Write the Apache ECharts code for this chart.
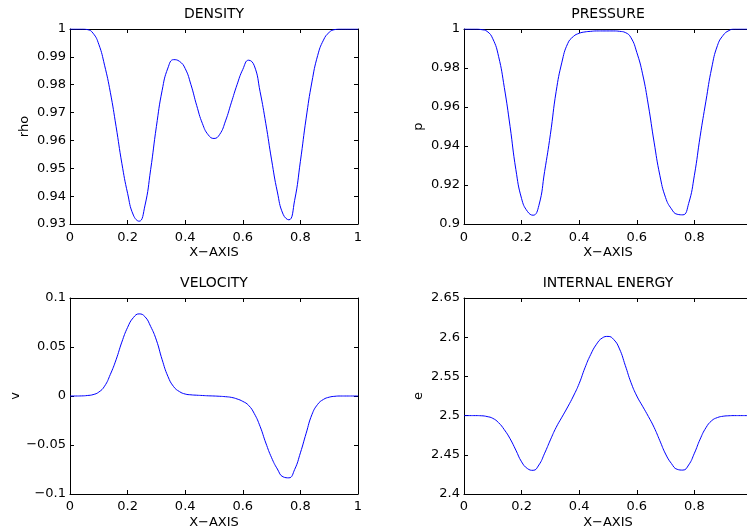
<!DOCTYPE html>
<html><head><meta charset="utf-8">
<script src="https://cdn.jsdelivr.net/npm/echarts@6/dist/echarts.min.js"></script>
<style>html,body{margin:0;padding:0;background:#fff}#c{width:747px;height:531px}</style>
</head><body><div id="c"></div>
<script>
// ---- data ----
const xs = [0,0.02,0.04,0.06,0.08,0.10,0.12,0.14,0.16,0.18,0.20,0.22,0.24,0.26,0.28,0.30,0.32,0.34,0.36,0.38,0.40,0.42,0.44,0.46,0.48,0.50,0.52,0.54,0.56,0.58,0.60,0.62,0.64,0.66,0.68,0.70,0.72,0.74,0.76,0.78,0.80,0.82,0.84,0.86,0.88,0.90,0.92,0.94,0.96,0.98,1.00];
const rho = [1.0,1.0,1.0,0.9998,0.9985,0.9945,0.9870,0.9773,0.965,0.9518,0.941,0.9332,0.931,0.9365,0.9495,0.965,0.978,0.986,0.989,0.9884,0.9858,0.980,0.9725,0.966,0.962,0.9607,0.9622,0.967,0.9735,0.980,0.9855,0.9888,0.9868,0.9775,0.966,0.953,0.9415,0.9335,0.9315,0.9385,0.9525,0.968,0.981,0.9905,0.996,0.9988,0.9998,1.0,1.0,1.0,1.0];
const pres = [1.0,1.0,1.0,0.9997,0.9988,0.995,0.986,0.970,0.950,0.928,0.913,0.9065,0.9045,0.9095,0.927,0.946,0.968,0.983,0.9925,0.9962,0.9978,0.9985,0.9988,0.999,0.999,0.999,0.999,0.9988,0.9982,0.9955,0.988,0.977,0.961,0.942,0.925,0.9135,0.9078,0.9050,0.9047,0.9105,0.925,0.945,0.963,0.980,0.9915,0.9968,0.9992,1.0,1.0,1.0,1.0];
const vel = [0,0,0.0001,0.0005,0.0014,0.004,0.010,0.022,0.037,0.055,0.070,0.080,0.0838,0.081,0.071,0.057,0.037,0.020,0.0095,0.0045,0.002,0.0012,0.0008,0.0005,0.0002,0,-0.0003,-0.0007,-0.0014,-0.003,-0.0055,-0.0095,-0.018,-0.031,-0.048,-0.063,-0.0745,-0.0825,-0.0835,-0.075,-0.058,-0.038,-0.019,-0.0085,-0.0035,-0.0012,-0.0003,0,0,0,0];
const ener = [2.5,2.5,2.5,2.4998,2.4988,2.4965,2.491,2.482,2.4705,2.456,2.441,2.4325,2.4302,2.437,2.452,2.469,2.485,2.498,2.511,2.525,2.541,2.561,2.578,2.591,2.599,2.601,2.597,2.585,2.564,2.542,2.525,2.512,2.499,2.485,2.468,2.451,2.439,2.4315,2.4305,2.437,2.452,2.470,2.4845,2.4935,2.4975,2.4992,2.4998,2.5,2.5,2.5,2.5];

const xTicks = [0,0.2,0.4,0.6,0.8,1];
const rhoTicks = [0.93,0.94,0.95,0.96,0.97,0.98,0.99,1];
const presTicks = [0.9,0.92,0.94,0.96,0.98,1];
const velTicks = [-0.1,-0.05,0,0.05,0.1];
const enerTicks = [2.4,2.45,2.5,2.55,2.6,2.65];

const titles = ['DENSITY','PRESSURE','VELOCITY','INTERNAL ENERGY'];
const yNames = ['rho','p','v','e'];
const xName = 'X\u2212AXIS';

// ---- layout ----
const layout = [
  {left:70, top:29, width:288, height:195},
  {left:464, top:29, width:288, height:195},
  {left:70, top:298, width:288, height:196},
  {left:464, top:298, width:288, height:196}
];
const yNameGaps = [39, 38.5, 47, 38.5];
const xLabelMargins = [7, 7, 6, 6];
const xNameGaps = [22, 22, 22, 22];
const seriesVals = [rho, pres, vel, ener];
const yTickSets = [rhoTicks, presTicks, velTicks, enerTicks];

const FONT = 'DejaVu Sans';
const FS = 13;
function fmt(v){ return String(parseFloat(Number(v).toFixed(6))).replace('-', '\u2212'); }
function step(t){ return parseFloat((t[1]-t[0]).toFixed(6)); }
const txt = {color:'#000', fontSize:FS, fontFamily:FONT};

const option = {animation:false, backgroundColor:'#fff', grid:[], xAxis:[], yAxis:[], series:[]};
layout.forEach((g,i)=>{
  option.grid.push(Object.assign({outerBoundsMode:'none', containLabel:false, show:false}, g));
  const base = () => ({
    type:'value', gridIndex:i, splitLine:{show:false},
    axisLine:{show:true, onZero:false, lineStyle:{color:'#000', width:1}},
    axisTick:{show:true, inside:true, length:4, lineStyle:{color:'#000', width:1}}
  });
  const yt = yTickSets[i];
  option.xAxis.push(Object.assign(base(), {
    position:'bottom', min:xTicks[0], max:xTicks[xTicks.length-1], interval:step(xTicks),
    axisLabel:Object.assign({show:true, formatter:fmt, margin:xLabelMargins[i], showMinLabel:true, showMaxLabel:true}, txt),
    name:xName, nameLocation:'middle', nameGap:xNameGaps[i], nameTextStyle:Object.assign({}, txt)
  }));
  option.xAxis.push(Object.assign(base(), {
    position:'top', min:xTicks[0], max:xTicks[xTicks.length-1], interval:step(xTicks),
    axisLabel:{show:false},
    name:titles[i], nameLocation:'middle', nameGap:8, nameTextStyle:Object.assign({}, txt, {fontSize:14})
  }));
  option.yAxis.push(Object.assign(base(), {
    position:'left', min:yt[0], max:yt[yt.length-1], interval:step(yt),
    axisLabel:Object.assign({show:true, formatter:fmt, margin:4, showMinLabel:true, showMaxLabel:true}, txt),
    name:yNames[i], nameLocation:'middle', nameRotate:90, nameGap:yNameGaps[i], nameTextStyle:Object.assign({}, txt)
  }));
  option.yAxis.push(Object.assign(base(), {
    position:'right', min:yt[0], max:yt[yt.length-1], interval:step(yt),
    axisLabel:{show:false}
  }));
  option.series.push({
    type:'line', xAxisIndex:2*i, yAxisIndex:2*i,
    data: xs.map((x,k)=>[x, seriesVals[i][k]]),
    showSymbol:false, symbol:'none', smooth:0.5, silent:true,
    lineStyle:{color:'#0000ff', width:1}
  });
});
const chart = echarts.init(document.getElementById('c'), null, {renderer:'canvas'});
chart.setOption(option);
</script>
</body></html>
